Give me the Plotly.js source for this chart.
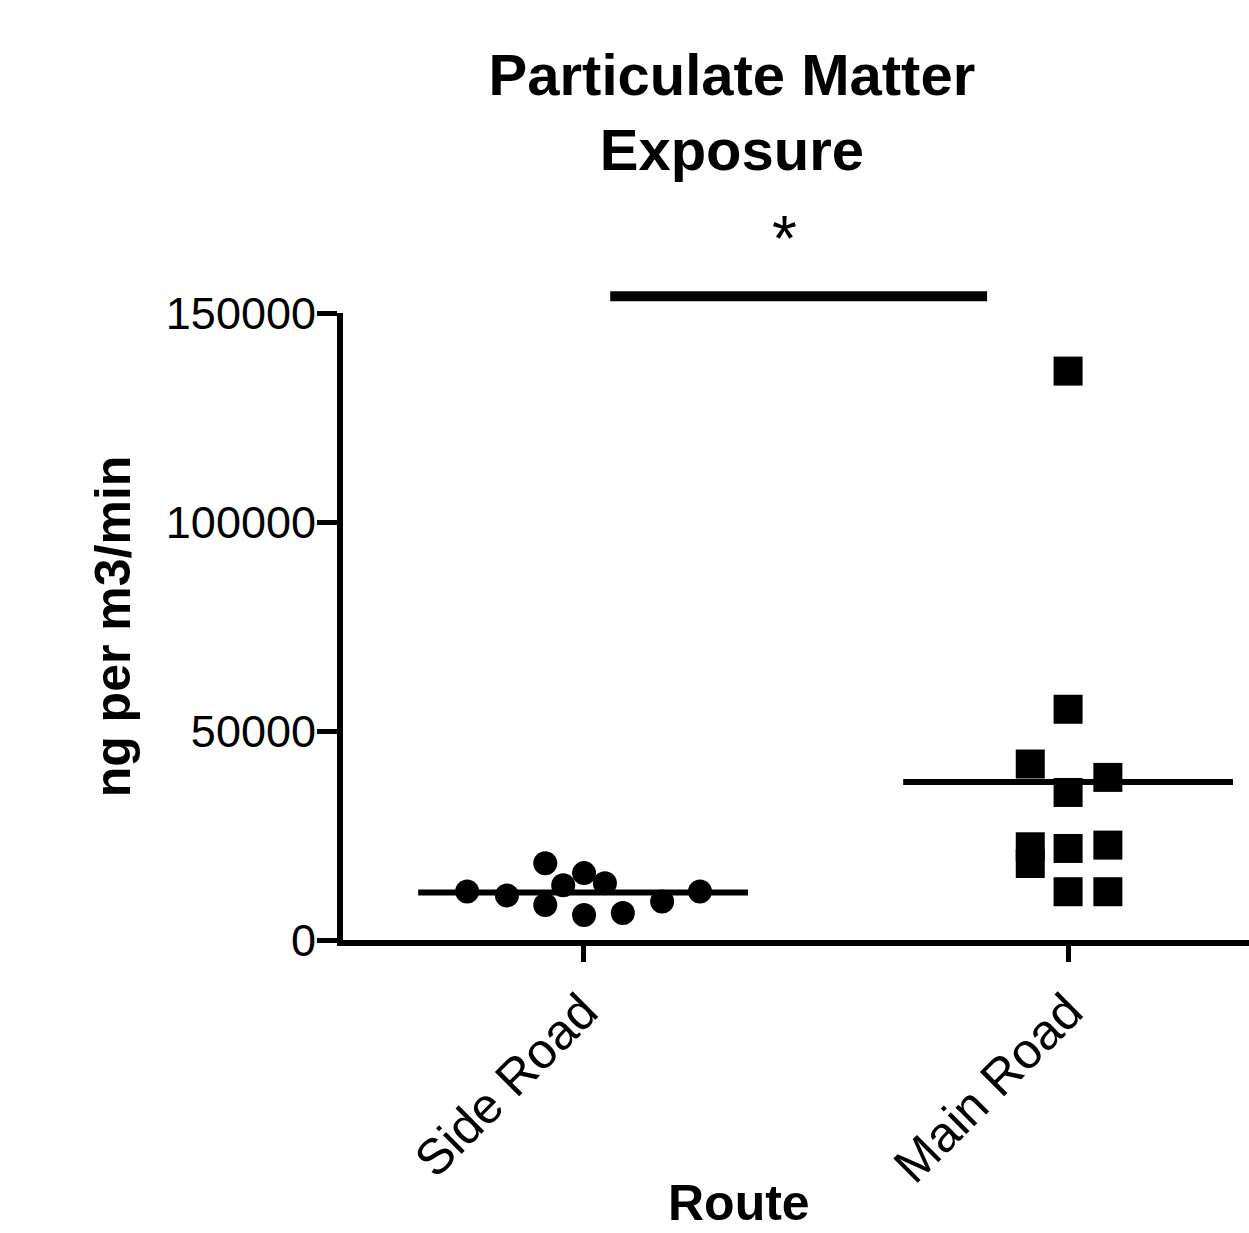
<!DOCTYPE html>
<html>
<head>
<meta charset="utf-8">
<script src="https://cdn.plot.ly/plotly-3.0.1.min.js"></script>
<style>html,body{margin:0;padding:0;background:#fff;}#chart{width:1249px;height:1233px;}</style>
</head>
<body>
<div id="chart"></div>
<script>
// ---- data ----
var categories = ['Side Road', 'Main Road'];
var sideValues = [11600, 10650, 18350, 8400, 6000, 13100, 16000, 13600, 6450, 9200, 11600];
var sideJitter = [-0.239, -0.157, -0.078, -0.078, 0.002, -0.041, 0.002, 0.045, 0.082, 0.163, 0.241];
var mainValues = [136100, 55200, 42100, 38900, 35300, 22300, 18300, 21900, 22700, 11550, 11550];
var mainJitter = [0, 0, -0.078, 0.082, 0, -0.078, -0.078, 0, 0.082, 0, 0.082];
var yTickVals = [0, 50000, 100000, 150000];
var yTickText = ['0', '50000', '100000', '150000'];
var sigValue = 154000;
var sigFrom = 0.056, sigTo = 0.833;
var sigLabel = '*';
var sigLabelX = 0.416;

function mean(a){ var s = 0; a.forEach(function(v){ s += v; }); return s / a.length; }

var FONT = '"Liberation Sans", Arial, sans-serif';
var halfW = 0.34;
var yMax = 150000;

var traces = [
  { type: 'scatter', mode: 'markers', name: categories[0],
    x: sideJitter.map(function(j){ return 0 + j; }), y: sideValues,
    marker: { symbol: 'circle', size: 24, color: '#000', line: { width: 0 } }, cliponaxis: false },
  { type: 'scatter', mode: 'markers', name: categories[1],
    x: mainJitter.map(function(j){ return 1 + j; }), y: mainValues,
    marker: { symbol: 'square', size: 29, color: '#000', line: { width: 0 } }, cliponaxis: false },
  { type: 'scatter', mode: 'lines', x: [0 - halfW, 0 + halfW], y: [mean(sideValues), mean(sideValues)],
    line: { color: '#000', width: 6 } },
  { type: 'scatter', mode: 'lines', x: [1 - halfW, 1 + halfW], y: [mean(mainValues), mean(mainValues)],
    line: { color: '#000', width: 6 } }
];

var layout = {
  width: 1249, height: 1233,
  paper_bgcolor: '#fff', plot_bgcolor: '#fff',
  showlegend: false,
  margin: { l: 343, r: 0, t: 313, b: 293, pad: 0 },
  font: { family: FONT, color: '#000' },
  title: { text: 'Particulate Matter<br>Exposure', x: 0.586, xanchor: 'center', xref: 'container',
           y: 0.923, yanchor: 'top', yref: 'container',
           font: { family: FONT, size: 58, weight: 'bold', color: '#000' } },
  xaxis: {
    range: [-0.495, 1.373], tickvals: [0, 1], ticktext: categories, tickangle: -45,
    showgrid: false, zeroline: false, showline: true, linecolor: '#000', linewidth: 6,
    ticks: 'outside', ticklen: 16, tickwidth: 5, tickcolor: '#000',
    tickfont: { family: FONT, size: 50, color: '#000' }
  },
  yaxis: {
    range: [0, yMax], tickvals: yTickVals, ticktext: yTickText,
    showgrid: false, zeroline: false, showline: true, linecolor: '#000', linewidth: 6,
    ticks: 'outside', ticklen: 20, tickwidth: 5, tickcolor: '#000',
    ticklabelstandoff: -8,
    tickfont: { family: FONT, size: 45, color: '#000' },
    title: { text: 'ng per m3/min', standoff: 21, font: { family: FONT, size: 50, weight: 'bold', color: '#000' } }
  },
  shapes: [
    { type: 'line', xref: 'x', yref: 'paper', x0: sigFrom, x1: sigTo,
      y0: sigValue / yMax, y1: sigValue / yMax, line: { color: '#000', width: 10 } }
  ],
  annotations: [
    { text: sigLabel, xref: 'x', yref: 'paper', x: sigLabelX, y: sigValue / yMax,
      yanchor: 'bottom', yshift: 19, showarrow: false, font: { family: FONT, size: 64, color: '#000' } },
    { text: 'Route', xref: 'paper', yref: 'paper', x: 0.437, xanchor: 'center',
      y: 0, yanchor: 'top', yshift: -233, showarrow: false,
      font: { family: FONT, size: 50, weight: 'bold', color: '#000' } }
  ]
};

Plotly.newPlot('chart', traces, layout, { displayModeBar: false, staticPlot: true });
</script>
</body>
</html>
